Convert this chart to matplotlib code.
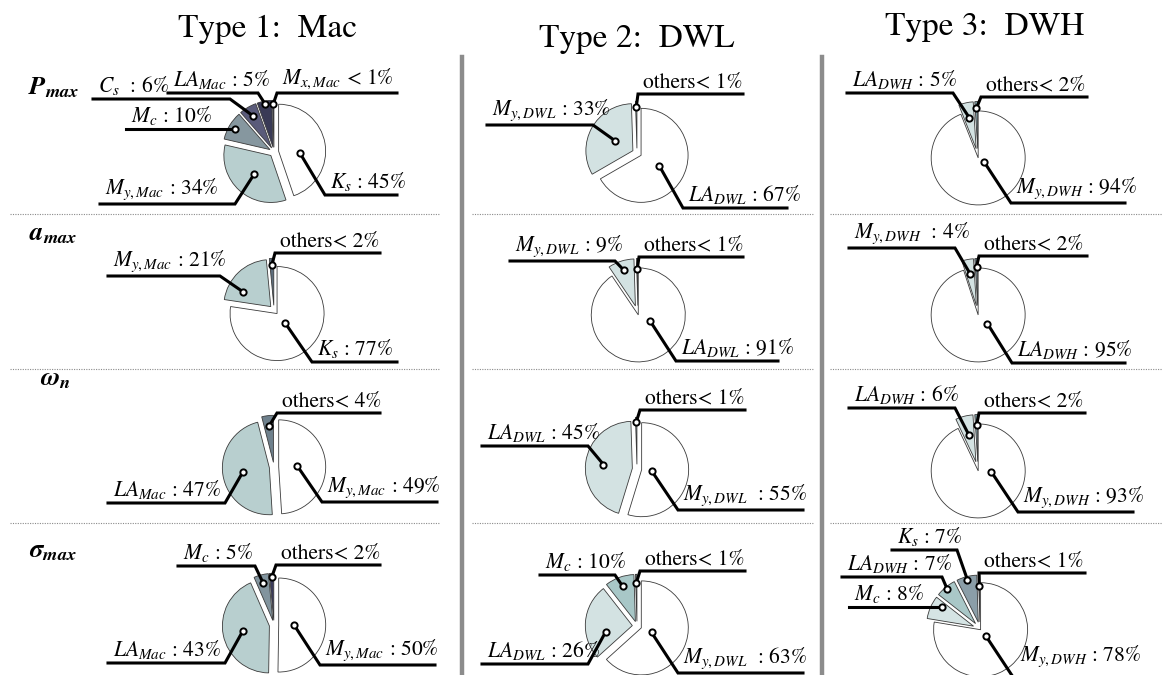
import numpy as np
import matplotlib.pyplot as plt

plt.rcParams['font.family'] = 'STIXGeneral'
plt.rcParams['mathtext.fontset'] = 'stix'

W, H = 1163, 675  # canvas in pixels (dpi 100)

col_titles = ['Type 1:  Mac', 'Type 2:  DWL', 'Type 3:  DWH']
row_titles = [r'$\mathbfit{P}_{\mathbfit{max}}$', r'$\mathbfit{a}_{\mathbfit{max}}$',
              r'$\mathbfit{\omega}_{\mathbfit{n}}$', r'$\mathbfit{\sigma}_{\mathbfit{max}}$']

# shares in %, listed counterclockwise from 12 o'clock ("< 1%" read as 0.5)
pmax_mac_lbl = [r'$M_{x,Mac}$ < 1%', r'$LA_{Mac}$ : 5%', r'$C_s$  : 6%',
                r'$M_c$ : 10%', r'$M_{y,Mac}$ : 34%', r'$K_s$ : 45%']
pmax_mac = [0.5, 5, 6, 10, 34, 45]
pmax_dwl_lbl = ['others< 1%', r'$M_{y,DWL}$ : 33%', r'$LA_{DWL}$ : 67%']
pmax_dwl = [0.5, 33, 67]
pmax_dwh_lbl = ['others< 2%', r'$LA_{DWH}$ : 5%', r'$M_{y,DWH}$ : 94%']
pmax_dwh = [1, 5, 94]

amax_mac_lbl = ['others< 2%', r'$M_{y,Mac}$ : 21%', r'$K_s$ : 77%']
amax_mac = [1.5, 21, 77]
amax_dwl_lbl = ['others< 1%', r'$M_{y,DWL}$ : 9%', r'$LA_{DWL}$ : 91%']
amax_dwl = [0.5, 9, 91]
amax_dwh_lbl = ['others< 2%', r'$M_{y,DWH}$  : 4%', r'$LA_{DWH}$ : 95%']
amax_dwh = [1, 4, 95]

wn_mac_lbl = ['others< 4%', r'$LA_{Mac}$ : 47%', r'$M_{y,Mac}$ : 49%']
wn_mac = [4, 47, 49]
wn_dwl_lbl = ['others< 1%', r'$LA_{DWL}$ : 45%', r'$M_{y,DWL}$  : 55%']
wn_dwl = [0.5, 45, 55]
wn_dwh_lbl = ['others< 2%', r'$LA_{DWH}$ : 6%', r'$M_{y,DWH}$ : 93%']
wn_dwh = [1, 6, 93]

smax_mac_lbl = ['others< 2%', r'$M_c$ : 5%', r'$LA_{Mac}$ : 43%', r'$M_{y,Mac}$ : 50%']
smax_mac = [1.5, 5, 43, 50]
smax_dwl_lbl = ['others< 1%', r'$M_c$ : 10%', r'$LA_{DWL}$ : 26%', r'$M_{y,DWL}$  : 63%']
smax_dwl = [0.5, 10, 26, 63]
smax_dwh_lbl = ['others< 1%', r'$K_s$ : 7%', r'$LA_{DWH}$ : 7%', r'$M_c$ : 8%', r'$M_{y,DWH}$ : 78%']
smax_dwh = [0.5, 7, 7, 8, 78]

panels = [[(pmax_mac_lbl, pmax_mac), (pmax_dwl_lbl, pmax_dwl), (pmax_dwh_lbl, pmax_dwh)],
          [(amax_mac_lbl, amax_mac), (amax_dwl_lbl, amax_dwl), (amax_dwh_lbl, amax_dwh)],
          [(wn_mac_lbl, wn_mac), (wn_dwl_lbl, wn_dwl), (wn_dwh_lbl, wn_dwh)],
          [(smax_mac_lbl, smax_mac), (smax_dwl_lbl, smax_dwl), (smax_dwh_lbl, smax_dwh)]]

# ---- layout (image pixel coords, y down) ----
R = 47
centers = [[(274, 152), (637, 153), (978, 157)],
           [(274, 310), (638, 314), (978, 314)],
           [(274, 467), (637, 469), (978, 470)],
           [(274, 625), (637, 626), (980, 629)]]

# explode as fraction of the radius
explodes = [[[0.1] * 6, [0.1] * 3, [0.18, 0.18, 0.02]],
            [[0.1] * 3, [0.18, 0.18, 0.02], [0.18, 0.18, 0.02]],
            [[0.1] * 3, [0.1] * 3, [0.18, 0.18, 0.02]],
            [[0.1] * 4, [0.1] * 4, [0.15, 0.15, 0.15, 0.15, 0.02]]]

colors = [[['#232438', '#393a56', '#5a5b7a', '#86979f', '#b8cfcf', 'white'],
           ['#8fb0b0', '#d3e2e2', 'white'],
           ['#7d9aa0', '#d3e2e2', 'white']],
          [['#5f6f7e', '#b8cfcf', 'white'],
           ['#6d7d85', '#d3e2e2', 'white'],
           ['#6d8088', '#d3e2e2', 'white']],
          [['#6e808c', '#b8cfcf', 'white'],
           ['#8a9aa0', '#d3e2e2', 'white'],
           ['#7d9aa0', '#d3e2e2', 'white']],
          [['#3a3a5a', '#82949e', '#b8cfcf', 'white'],
           ['#7e9096', '#a8c7c7', '#d3e2e2', 'white'],
           ['#5c6c78', '#8b9ea8', '#a9c7c7', '#d5e4e4', 'white']]]


def L(f, elbow, end, ang=None, ty=None):
    # dot at fraction f of radius, leader bends at elbow then runs to x=end
    return dict(f=f, elbow=elbow, end=end, ang=ang, ty=ty)


notes = [[[L(0.92, (277, 93), 397), L(0.95, (258, 93), 168), L(0.8, (230, 99), 93),
           L(0.87, None, 126), L(0.52, (235, 204), 100), L(0.45, (325, 195), 397, ang=-4)],
          [L(0.88, (638, 94), 743), L(0.43, (593, 125), 487), L(0.45, (683, 208), 787)],
          [L(0.86, (981, 97), 1087), L(0.68, (953, 93), 847), L(0.16, (1011, 203), 1125, ang=-35)]],
         [[L(0.86, (275, 253), 380), L(0.67, (220, 276), 108, ang=152), L(0.26, (312, 362), 397)],
          [L(0.78, (639, 257), 743), L(0.8, (615, 261), 510), L(0.29, (676, 361), 778, ang=-28)],
          [L(0.83, (979, 256), 1087), L(0.68, (955, 248), 849), L(0.27, (1012, 363), 1125, ang=-43)]],
         [[L(0.77, (277, 413), 380), L(0.57, (225, 503), 108), L(0.4, (322, 502), 437)],
          [L(0.9, (640, 410), 745), L(0.62, (588, 446), 482), L(0.22, (678, 510), 803)],
          [L(0.78, (979, 413), 1085), L(0.58, (955, 408), 849), L(0.28, (1018, 512), 1133, ang=-4)]],
         [[L(0.92, (276, 565), 380), L(0.82, (255, 566), 178), L(0.58, (225, 663), 108),
           L(0.33, (320, 665), 435)],
          [L(0.82, (640, 571), 745), L(0.8, (615, 575), 540), L(0.58, (588, 664), 482, ang=193),
           L(0.24, (678, 673), 803)],
          [L(0.77, (979, 573), 1085), L(0.93, (957, 550), 892), L(0.95, (942, 577), 842),
           L(0.78, None, 849, ang=148), L(0.17, (1015, 680), 1130, ty=669)]]]

title_pos = [(268, 37), (637, 47), (985, 35)]
row_pos = [(28, 94), (29, 240), (40, 385), (29, 557)]
sep_rows = [214, 369, 523]
sep_cols = [(10, 440), (472, 813), (830, 1162)]

fig = plt.figure(figsize=(W / 100, H / 100), dpi=100)
ax = fig.add_axes([0, 0, 1, 1])

for i in range(4):
    for j in range(3):
        labels, vals = panels[i][j]
        cx, cy = centers[i][j]
        # pie's explode is in data units, so scale by the radius
        expl = [e * R for e in explodes[i][j]]
        wedges, _ = ax.pie(vals, explode=expl, colors=colors[i][j],
                           startangle=90, counterclock=True,
                           center=(cx, H - cy), radius=R,
                           wedgeprops=dict(edgecolor='#3a3a3a', linewidth=0.6))
        for w, lab, n in zip(wedges, labels, notes[i][j]):
            a = np.deg2rad(n['ang'] if n['ang'] is not None else (w.theta1 + w.theta2) / 2)
            px = w.center[0] + n['f'] * w.r * np.cos(a)
            py = w.center[1] + n['f'] * w.r * np.sin(a)
            if n['elbow'] is None:
                ex, ey = px, py
            else:
                ex, ey = n['elbow'][0], H - n['elbow'][1]
            ax.plot([px, ex, n['end']], [py, ey, ey], color='black', lw=2.2,
                    solid_joinstyle='miter', zorder=4)
            ax.plot(px, py, 'o', ms=4.5, mfc='white', mec='black', mew=1.4, zorder=5)
            ty = ey + 2 if n['ty'] is None else H - n['ty']
            ax.text(min(ex, n['end']) + 5, ty, lab, ha='left', va='bottom',
                    fontsize=15.5, zorder=6)

# column titles and row names
for t, (x, y) in zip(col_titles, title_pos):
    ax.text(x, H - y, t, ha='center', va='baseline', fontsize=24)
for t, (x, y) in zip(row_titles, row_pos):
    ax.text(x, H - y, t, ha='left', va='baseline', fontsize=19)

# separators
for y in sep_rows:
    for x0, x1 in sep_cols:
        ax.plot([x0, x1], [H - y, H - y], color='#8a8a8a', lw=0.8,
                linestyle=(0, (1, 1.2)), zorder=1)
for x in [462, 822]:
    ax.plot([x, x], [H - 57, 0], color='#8c8c8c', lw=3.2, zorder=1)

ax.set_xlim(0, W)
ax.set_ylim(0, H)
ax.axis('off')

fig.savefig('out.png', dpi=100)
